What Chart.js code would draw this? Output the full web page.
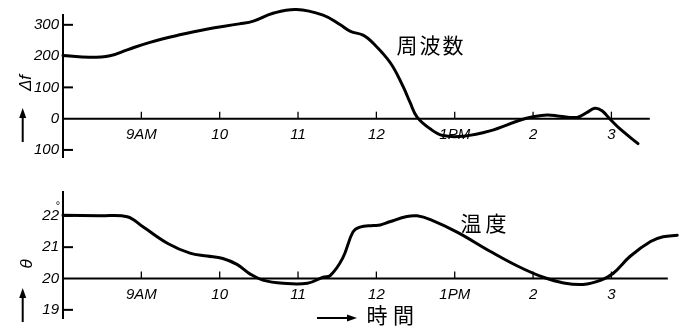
<!DOCTYPE html>
<html>
<head>
<meta charset="utf-8">
<script src="https://cdn.jsdelivr.net/npm/chart.js@4"></script>
<style>
  html, body { margin: 0; padding: 0; background: #fff; }
  #wrap { position: relative; width: 685px; height: 331px; overflow: hidden; background: #fff; }
  #wrap canvas { position: absolute; left: 0; }
  #freq { top: 0; }
  #temp { top: 170px; }
</style>
</head>
<body>
<div id="wrap">
  <canvas id="freq" width="685" height="170"></canvas>
  <canvas id="temp" width="685" height="161"></canvas>
</div>
<script>
// Hour of day (24h clock) for the time axis
const hourTicks  = [9, 10, 11, 12, 13, 14, 15];
const hourLabels = ['9AM', '10', '11', '12', '1PM', '2', '3'];

// Frequency deviation Δf
const freqTicks  = [-100, 0, 100, 200, 300];
const freqHours  = [8.00, 8.34, 8.60, 8.82, 9.11, 9.49, 9.83, 10.25, 10.43, 10.68, 10.98, 11.32, 11.54, 11.67, 11.83, 11.96, 12.18, 12.34, 12.43, 12.52, 12.69, 12.85, 13.11, 13.45, 13.83, 14.00, 14.18, 14.34, 14.56, 14.69, 14.79, 14.88, 14.98, 15.11, 15.34];
const freqValues = [202, 196, 201, 220, 244, 268, 286, 303, 312, 337, 349, 331, 300, 279, 267, 241, 178, 103, 52, 5, -33, -54, -56, -39, -5, 6, 12, 8, 4, 20, 33, 25, -1, -33, -80];

// Temperature θ (°)
const tempTicks  = [19, 20, 21, 22];
const tempHours  = [8.00, 8.47, 8.82, 9.02, 9.35, 9.62, 9.84, 10.04, 10.22, 10.39, 10.55, 10.81, 11.12, 11.32, 11.41, 11.57, 11.70, 11.79, 11.96, 12.05, 12.17, 12.39, 12.52, 12.69, 13.03, 13.45, 13.80, 14.13, 14.39, 14.64, 14.86, 15.02, 15.24, 15.50, 15.66, 15.84];
const tempValues = [22.02, 22.00, 21.97, 21.65, 21.10, 20.81, 20.72, 20.64, 20.45, 20.14, 19.95, 19.85, 19.85, 20.04, 20.09, 20.65, 21.48, 21.64, 21.69, 21.71, 21.81, 21.98, 22.00, 21.88, 21.48, 20.87, 20.40, 20.04, 19.86, 19.81, 19.94, 20.16, 20.71, 21.18, 21.33, 21.38];

const INK = '#000';
const tickFont = { family: 'Liberation Sans', style: 'italic', size: 15 };
const cjkFont = '21px "Noto Sans CJK JP"';

// Zero line, hour marks above it and inward value marks on the left axis
const axisMarks = {
  id: 'axisMarks',
  beforeDatasetsDraw(chart, args, opts) {
    const { ctx } = chart;
    const xs = chart.scales.x, ys = chart.scales.y;
    const y0 = ys.getPixelForValue(opts.baseValue);
    ctx.save();
    ctx.strokeStyle = INK;
    ctx.lineWidth = 2;
    ctx.beginPath();
    ctx.moveTo(xs.getPixelForValue(xs.min), y0);
    ctx.lineTo(xs.getPixelForValue(opts.baseEnd), y0);
    ctx.stroke();
    ctx.lineWidth = 1.3;
    xs.ticks.forEach(t => {
      const x = xs.getPixelForValue(t.value);
      ctx.beginPath();
      ctx.moveTo(x, y0);
      ctx.lineTo(x, y0 - 7);
      ctx.stroke();
    });
    ctx.lineWidth = 2;
    ys.ticks.forEach(t => {
      if (t.value === opts.baseValue) return;
      const y = ys.getPixelForValue(t.value);
      ctx.beginPath();
      ctx.moveTo(xs.left, y);
      ctx.lineTo(xs.left + 10, y);
      ctx.stroke();
    });
    if (opts.degreeAt !== undefined) {
      ctx.fillStyle = INK;
      ctx.font = '11px "Liberation Sans"';
      ctx.textAlign = 'center';
      ctx.textBaseline = 'middle';
      ctx.fillText('°', xs.left - 5, ys.getPixelForValue(opts.degreeAt) - 10);
    }
    ctx.restore();
  }
};

function drawArrow(ctx, x1, y1, x2, y2, head, half) {
  const a = Math.atan2(y2 - y1, x2 - x1);
  const bx = x2 - head * Math.cos(a), by = y2 - head * Math.sin(a);
  ctx.beginPath();
  ctx.moveTo(x1, y1);
  ctx.lineTo(bx, by);
  ctx.stroke();
  ctx.beginPath();
  ctx.moveTo(x2, y2);
  ctx.lineTo(bx + half * Math.sin(a), by - half * Math.cos(a));
  ctx.lineTo(bx - half * Math.sin(a), by + half * Math.cos(a));
  ctx.closePath();
  ctx.fill();
}

// Quantity symbol, arrows and the Japanese captions
const captions = {
  id: 'captions',
  afterDraw(chart, args, opts) {
    const { ctx } = chart;
    ctx.save();
    ctx.fillStyle = INK;
    ctx.strokeStyle = INK;
    ctx.textAlign = 'center';
    ctx.textBaseline = 'middle';
    (opts.words || []).forEach(w => {
      ctx.font = cjkFont;
      [...w.text].forEach((ch, i) => ctx.fillText(ch, w.x + i * w.step, w.y));
    });
    if (opts.symbol) {
      const s = opts.symbol;
      ctx.save();
      ctx.translate(s.x, s.y);
      ctx.rotate(-Math.PI / 2);
      ctx.font = s.font;
      ctx.fillText(s.text, 0, 0);
      ctx.restore();
    }
    ctx.lineWidth = 2;
    (opts.arrows || []).forEach(a => drawArrow(ctx, a[0], a[1], a[2], a[3], 10, 3.5));
    ctx.restore();
  }
};

function panel(canvasId, hours, values, cfg) {
  return new Chart(document.getElementById(canvasId), {
    type: 'line',
    data: {
      datasets: [{
        data: hours.map((h, i) => ({ x: h, y: values[i] })),
        borderColor: INK,
        borderWidth: 3,
        pointRadius: 0,
        fill: false,
        clip: false,
        tension: 0.4,
        borderJoinStyle: 'round',
        borderCapStyle: 'round'
      }]
    },
    options: {
      responsive: false,
      animation: false,
      events: [],
      layout: { padding: cfg.padding },
      plugins: {
        legend: { display: false },
        tooltip: { enabled: false },
        axisMarks: cfg.marks,
        captions: cfg.captions
      },
      scales: {
        x: {
          type: 'linear',
          min: 8,
          max: 15.85,
          position: { y: cfg.baseValue },
          grid: { display: false, drawTicks: false },
          border: { display: false },
          afterBuildTicks: s => { s.ticks = hourTicks.map(v => ({ value: v })); },
          afterFit: s => { s.height = 0; },
          ticks: {
            autoSkip: false,
            maxRotation: 0,
            padding: 7,
            color: INK,
            font: tickFont,
            callback: (v, i) => hourLabels[i]
          }
        },
        y: {
          type: 'linear',
          min: cfg.yMin,
          max: cfg.yMax,
          grid: { display: false, drawTicks: false },
          border: { display: true, color: INK, width: 2 },
          afterBuildTicks: s => { s.ticks = cfg.yTicks.map(v => ({ value: v })); },
          afterFit: s => { s.width = 63; },
          ticks: {
            padding: 4,
            color: INK,
            font: tickFont,
            callback: cfg.yLabel
          }
        }
      }
    },
    plugins: [axisMarks, captions]
  });
}

panel('freq', freqHours, freqValues, {
  padding: { top: 15, bottom: 11.7, left: 0, right: 7 },
  baseValue: 0,
  yMin: -122.6,
  yMax: 331.4,
  yTicks: freqTicks,
  yLabel: v => String(Math.abs(v)),
  marks: { baseValue: 0, baseEnd: 15.49 },
  captions: {
    words: [{ text: '周波数', x: 407, y: 45, step: 23 }],
    symbol: { text: 'Δf', x: 26, y: 83, font: 'italic 17px "Liberation Sans"' },
    arrows: [[22.7, 142, 22.7, 108]]
  }
});

panel('temp', tempHours, tempValues, {
  padding: { top: 21.7, bottom: 9.3, left: 0, right: 7 },
  baseValue: 20,
  yMin: 18.74,
  yMax: 22.77,
  yTicks: tempTicks,
  yLabel: v => String(v),
  marks: { baseValue: 20, baseEnd: 15.72, degreeAt: 22 },
  captions: {
    words: [
      { text: '温度', x: 471, y: 53, step: 25 },
      { text: '時間', x: 377, y: 145, step: 26.5 }
    ],
    symbol: { text: 'θ', x: 27, y: 94, font: 'italic 17px "Liberation Sans"' },
    arrows: [[22.7, 152, 22.7, 118], [317, 148, 357, 148]]
  }
});
</script>
</body>
</html>
